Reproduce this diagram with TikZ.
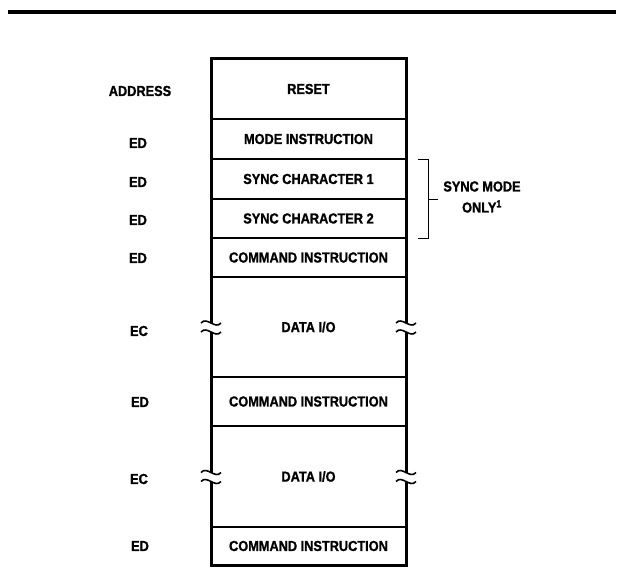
\documentclass[tikz,border=0pt]{standalone}
\usepackage{fontspec}
\setmainfont{Liberation Sans}[FakeStretch=0.88, BoldFeatures={FakeBold=1.2}]
\usepackage{tikz}

\tikzset{
  lbl/.style={font=\bfseries\fontsize{14.5}{21}\selectfont, inner sep=0pt},
  row/.style={minimum width=195pt, inner sep=0pt, outer sep=0pt, lbl},
  divider/.style={line width=1.6pt},
  frame/.style={line width=3pt},
  bracketline/.style={line width=0.7pt},
  brk/.pic={
    \draw[line width=1.6pt] (-10,-4) .. controls (-4,-11) and (4,3) .. (10,-4);
    \draw[line width=1.6pt] (-10,5) .. controls (-4,-2) and (4,12) .. (10,5);
  }
}

\begin{document}
\begin{tikzpicture}[x=1pt, y=-1pt]
\useasboundingbox (0,0) rectangle (620,567);

% top rule
\draw[line width=3.5pt] (8,12) -- (616,12);

% rows of the sequence
\node[row, minimum height=60] (reset) at (308.5,89) {RESET};
\node[row, minimum height=40] (mode) at (308.5,139) {MODE INSTRUCTION};
\node[row, minimum height=40] (synca) at (308.5,179) {SYNC CHARACTER 1};
\node[row, minimum height=39] (syncb) at (308.5,218.5) {SYNC CHARACTER 2};
\node[row, minimum height=39] (cmda) at (308.5,257.5) {COMMAND INSTRUCTION};
\node[row, minimum height=100] (dataa) at (308.5,327) {DATA I/O};
\node[row, minimum height=49] (cmdb) at (308.5,401.5) {COMMAND INSTRUCTION};
\node[row, minimum height=101] (datab) at (308.5,476.5) {DATA I/O};
\node[row, minimum height=38] (cmdc) at (308.5,546) {COMMAND INSTRUCTION};

% dividers between rows
\draw[divider] (reset.south west) -- (reset.south east);
\draw[divider] (mode.south west) -- (mode.south east);
\draw[divider] (synca.south west) -- (synca.south east);
\draw[divider] (syncb.south west) -- (syncb.south east);
\draw[divider] (cmda.south west) -- (cmda.south east);
\draw[divider] (dataa.south west) -- (dataa.south east);
\draw[divider] (cmdb.south west) -- (cmdb.south east);
\draw[divider] (datab.south west) -- (datab.south east);

% outer frame with breaks
\draw[frame] ([yshift=4pt]dataa.west) |- (reset.north) -| ([yshift=4pt]dataa.east);
\draw[frame] ([yshift=-5pt]dataa.west) -- ([yshift=4pt]datab.west);
\draw[frame] ([yshift=-5pt]dataa.east) -- ([yshift=4pt]datab.east);
\draw[frame] ([yshift=-5pt]datab.west) |- (cmdc.south) -| ([yshift=-5pt]datab.east);
\pic at (dataa.west) {brk};
\pic at (dataa.east) {brk};
\pic at (datab.west) {brk};
\pic at (datab.east) {brk};

% addresses
\node[lbl] (addr) at (140,91) {ADDRESS};
\node[lbl] (adra) at (138,143) {ED};
\node[lbl] (adrb) at (138,182) {ED};
\node[lbl] (adrc) at (138,220) {ED};
\node[lbl] (adrd) at (138,258) {ED};
\node[lbl] (adre) at (139,331) {EC};
\node[lbl] (adrf) at (140,402) {ED};
\node[lbl] (adrg) at (139,479) {EC};
\node[lbl] (adrh) at (140,546) {ED};

% sync mode bracket
\draw[bracketline] ([xshift=12pt]synca.north east) -- ++(10,0) |- ([xshift=12pt]syncb.south east);
\draw[bracketline] ([xshift=22pt]synca.south east) -- ++(10,0);
\node[lbl, align=center] (syncnote) at (482,197) {SYNC MODE\\ONLY\textsuperscript{1}};

\end{tikzpicture}
\end{document}
